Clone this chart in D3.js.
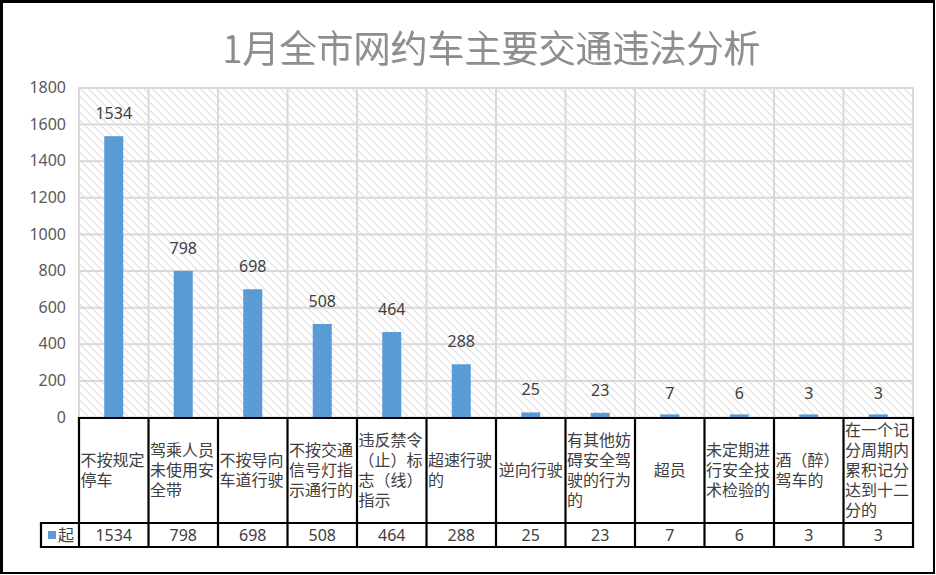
<!DOCTYPE html>
<html>
<head>
<meta charset="utf-8">
<script src="https://cdn.jsdelivr.net/npm/d3@7"></script>
<style>
  body { margin: 0; background: #fff; }
  svg { display: block; }
</style>
</head>
<body>
<script>
var categories = ["不按规定停车", "驾乘人员未使用安全带", "不按导向车道行驶", "不按交通信号灯指示通行的",
    "违反禁令（止）标志（线）指示", "超速行驶的", "逆向行驶", "有其他妨碍安全驾驶的行为的",
    "超员", "未定期进行安全技术检验的", "酒（醉）驾车的", "在一个记分周期内累积记分达到十二分的"];
var values = [1534, 798, 698, 508, 464, 288, 25, 23, 7, 6, 3, 3];
var yTicks = [0, 200, 400, 600, 800, 1000, 1200, 1400, 1600, 1800];
var seriesName = "起";
var title = "1月全市网约车主要交通违法分析";

var width = 936, height = 575;
var margin = { top: 87.5, left: 79, right: 23, bottom: 158 };
var plotW = width - margin.left - margin.right;
var plotH = height - margin.top - margin.bottom;
var cjk = "'Noto Sans CJK SC', sans-serif";
var num = "'Noto Sans', 'Noto Sans CJK SC', sans-serif";

var svg = d3.select("body").append("svg")
    .attr("width", width)
    .attr("height", height);

var defs = svg.append("defs");
var pat = defs.append("pattern")
    .attr("id", "hatch")
    .attr("patternUnits", "userSpaceOnUse")
    .attr("width", 8)
    .attr("height", 8);
pat.append("rect").attr("width", 8).attr("height", 8).attr("fill", "#fff");
d3.range(8).forEach(function (k) {
    pat.append("rect")
        .attr("x", k).attr("y", k)
        .attr("width", 1).attr("height", 1)
        .attr("fill", "#cccccc");
});

var shadow = defs.append("filter").attr("id", "shadow")
    .attr("x", "-5%").attr("y", "-20%").attr("width", "110%").attr("height", "140%");
shadow.append("feDropShadow")
    .attr("dx", 1).attr("dy", 1).attr("stdDeviation", 0.3)
    .attr("flood-color", "#404040").attr("flood-opacity", 0.6);

svg.append("rect").attr("width", width).attr("height", height).attr("fill", "#fff");

// title
svg.append("text")
    .attr("x", 491)
    .attr("y", 62)
    .attr("text-anchor", "middle")
    .attr("font-family", "'Noto Sans CJK SC Light', 'Noto Sans CJK SC DemiLight', 'Noto Sans CJK SC', sans-serif")
    .attr("font-size", 37)
    .attr("font-weight", 300)
    .attr("fill", "#8c8c8c")
    .attr("filter", "url(#shadow)")
    .text(title);

var chart = svg.append("g")
    .attr("transform", "translate(" + margin.left + "," + margin.top + ")");

var x = d3.scaleBand()
    .domain(categories)
    .range([0, plotW]);

var y = d3.scaleLinear()
    .domain([0, 1800])
    .range([plotH, 0]);

chart.append("rect")
    .attr("width", plotW)
    .attr("height", plotH)
    .attr("fill", "url(#hatch)");

// gridlines
chart.append("g")
    .call(d3.axisLeft(y).tickValues(yTicks).tickSize(-plotW).tickFormat(""))
    .call(g => g.select(".domain").remove())
    .call(g => g.selectAll("line").attr("stroke", "#d9d9d9").attr("stroke-width", 2));

var bounds = categories.map(c => x(c)).concat([plotW]);
chart.selectAll(".vgrid")
    .data(bounds)
    .enter()
    .append("line")
    .attr("class", "vgrid")
    .attr("x1", d => d).attr("x2", d => d)
    .attr("y1", 0).attr("y2", plotH)
    .attr("stroke", "#d9d9d9")
    .attr("stroke-width", 2);

// y axis labels
chart.append("g")
    .call(d3.axisLeft(y).tickValues(yTicks).tickSize(0).tickPadding(13).tickFormat(d3.format("d")))
    .call(g => g.select(".domain").remove())
    .call(g => g.selectAll("text")
        .attr("font-family", num)
        .attr("font-size", 16)
        .attr("fill", "#595959"));

var bw = 19;
chart.selectAll(".bar")
    .data(values)
    .enter()
    .append("rect")
    .attr("class", "bar")
    .attr("x", (d, i) => x(categories[i]) + x.bandwidth() / 2 - bw / 2)
    .attr("y", d => Math.min(y(d), plotH - 2.6))
    .attr("width", bw)
    .attr("height", d => Math.max(plotH - y(d), 2.6))
    .attr("fill", "#5b9bd5");

chart.selectAll(".lbl")
    .data(values)
    .enter()
    .append("text")
    .attr("class", "lbl")
    .attr("x", (d, i) => x(categories[i]) + x.bandwidth() / 2)
    .attr("y", d => y(d) - 17)
    .attr("text-anchor", "middle")
    .attr("font-family", num)
    .attr("font-size", 16)
    .attr("fill", "#404040")
    .text(d => d);

// data table
var rowTop = plotH + 1, rowMid = plotH + 106, rowBot = plotH + 130;
var tbl = chart.append("g");

categories.forEach(function (c, i) {
    var x0 = x(c);
    var lines = [];
    for (var k = 0; k < c.length; k += 4) lines.push(c.slice(k, k + 4));
    var cy = (rowTop + rowMid) / 2;
    var t = tbl.append("text")
        .attr("font-family", cjk)
        .attr("font-size", 16)
        .attr("fill", "#404040")
        .attr("text-anchor", lines.length == 1 ? "middle" : "start");
    lines.forEach(function (l, j) {
        t.append("tspan")
            .attr("x", lines.length == 1 ? x0 + x.bandwidth() / 2 : x0 + 1.5)
            .attr("y", cy + (j - (lines.length - 1) / 2) * 20)
            .attr("dy", "0.35em")
            .text(l);
    });
    tbl.append("text")
        .attr("x", x0 + x.bandwidth() / 2)
        .attr("y", (rowMid + rowBot) / 2)
        .attr("dy", "0.35em")
        .attr("text-anchor", "middle")
        .attr("font-family", num)
        .attr("font-size", 16)
        .attr("fill", "#404040")
        .text(values[i]);
});

var lw = 2.2;
tbl.append("line").attr("x1", -1.1).attr("x2", plotW + 1.1).attr("y1", rowTop).attr("y2", rowTop);
tbl.append("line").attr("x1", -39.1).attr("x2", plotW + 1.1).attr("y1", rowMid).attr("y2", rowMid);
tbl.append("line").attr("x1", -39.1).attr("x2", plotW + 1.1).attr("y1", rowBot).attr("y2", rowBot);
tbl.append("line").attr("x1", -38).attr("x2", -38).attr("y1", rowMid).attr("y2", rowBot);
bounds.forEach(function (b) {
    tbl.append("line").attr("x1", b).attr("x2", b).attr("y1", rowTop).attr("y2", rowBot);
});
tbl.selectAll("line").attr("stroke", "#000").attr("stroke-width", lw);

// legend key in table
tbl.append("rect")
    .attr("x", -31).attr("y", (rowMid + rowBot) / 2 - 4)
    .attr("width", 8).attr("height", 8)
    .attr("fill", "#5b9bd5");
tbl.append("text")
    .attr("x", -21).attr("y", (rowMid + rowBot) / 2)
    .attr("dy", "0.35em")
    .attr("font-family", cjk)
    .attr("font-size", 16)
    .attr("fill", "#404040")
    .text(seriesName);

// outer frame
svg.append("line").attr("x1", 0).attr("x2", 935).attr("y1", 1.5).attr("y2", 1.5)
    .attr("stroke", "#000").attr("stroke-width", 3);
svg.append("line").attr("x1", 1.5).attr("x2", 1.5).attr("y1", 0).attr("y2", 574)
    .attr("stroke", "#000").attr("stroke-width", 3);
svg.append("line").attr("x1", 934).attr("x2", 934).attr("y1", 0).attr("y2", 574)
    .attr("stroke", "#000").attr("stroke-width", 2);
svg.append("line").attr("x1", 0).attr("x2", 935).attr("y1", 573).attr("y2", 573)
    .attr("stroke", "#000").attr("stroke-width", 2);
</script>
</body>
</html>
